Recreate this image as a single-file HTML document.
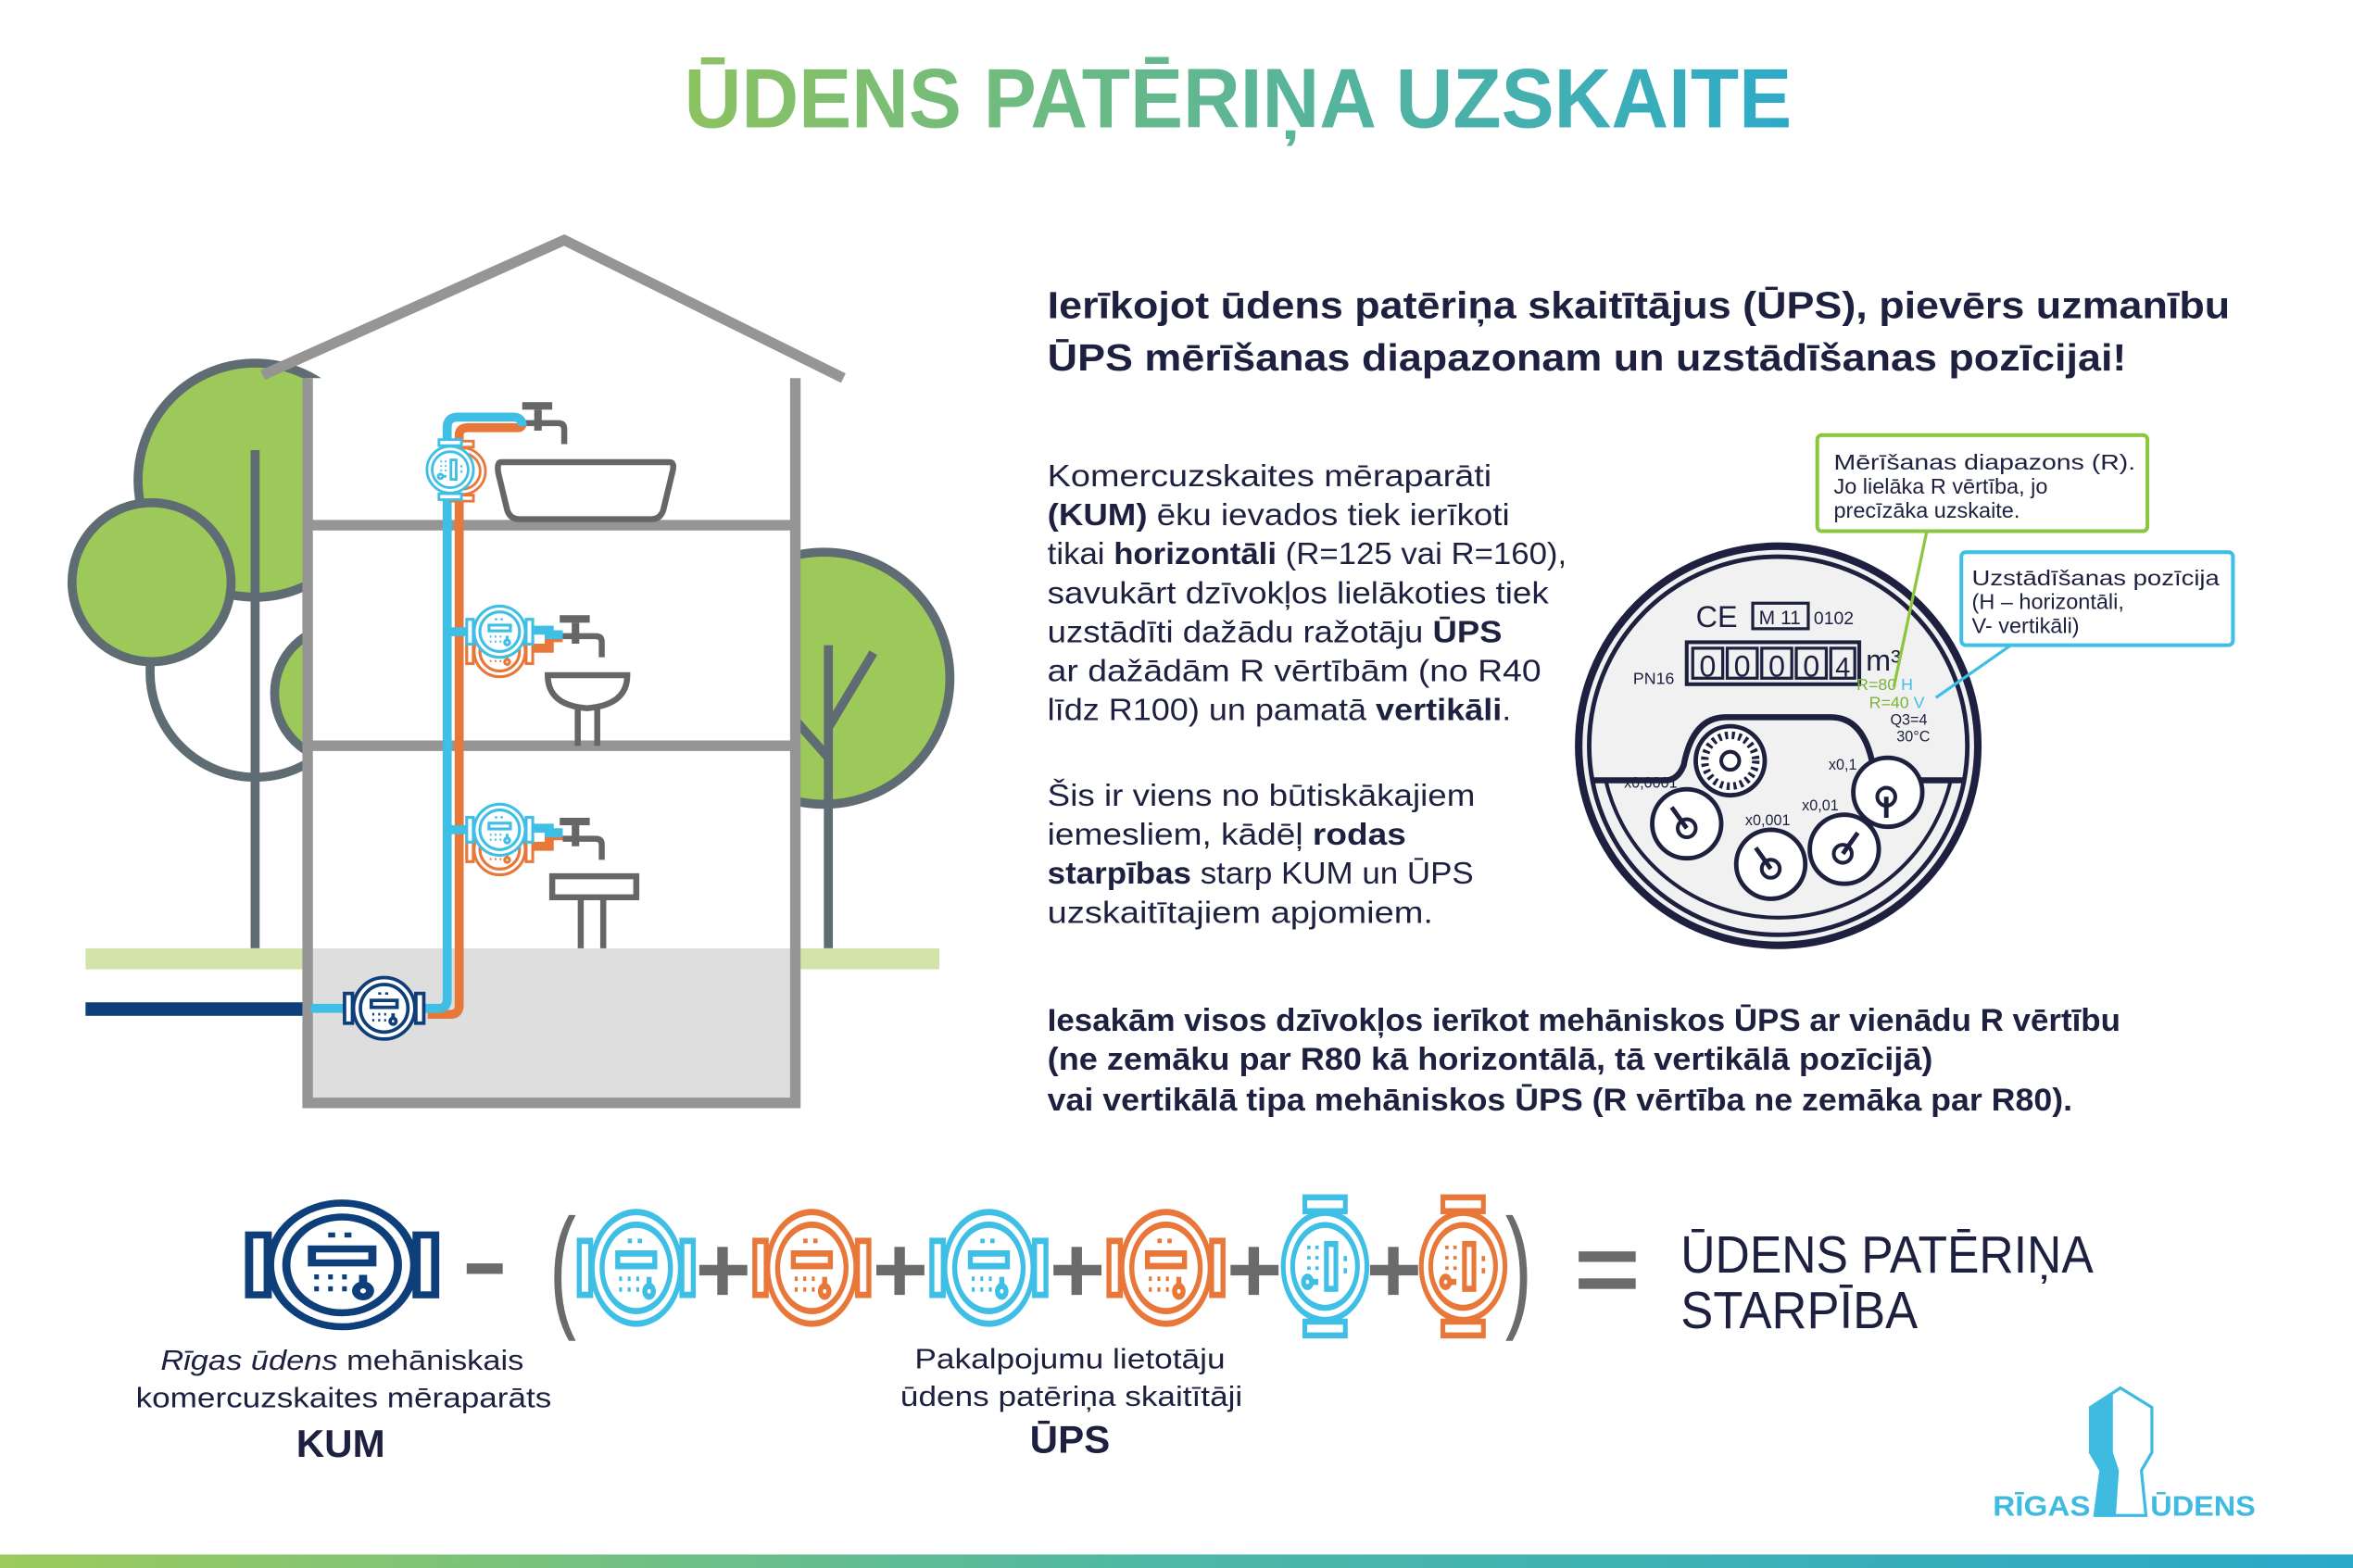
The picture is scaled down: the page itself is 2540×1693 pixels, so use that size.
<!DOCTYPE html>
<html><head><meta charset="utf-8"><style>
html,body{margin:0;padding:0;background:#fff;}
svg{display:block;}
text{font-family:"Liberation Sans",sans-serif;fill:#1e2040;}
</style></head><body>
<svg width="2540" height="1693" viewBox="0 0 1568 1045" preserveAspectRatio="none" xmlns="http://www.w3.org/2000/svg">
<defs>
<linearGradient id="tg" x1="0" x2="1" y1="0" y2="0"><stop offset="0" stop-color="#8cc261"/><stop offset="1" stop-color="#2eaac8"/></linearGradient>
<linearGradient id="bg" x1="0" x2="1" y1="0" y2="0"><stop offset="0" stop-color="#9ccb5c"/><stop offset="0.5" stop-color="#4db8a6"/><stop offset="1" stop-color="#2aa8c8"/></linearGradient>
<g id="mh" fill="none" stroke="currentColor" stroke-width="3.5">
<circle r="31" fill="#fff"/><circle r="24"/>
<rect x="-40" y="-15" width="8" height="30" fill="#fff"/><rect x="32" y="-15" width="8" height="30" fill="#fff"/>
<rect x="-13" y="-8" width="26" height="7"/>
<path d="M-6 -15h3M1 -15h3M-12 6h2M-6 6h2M0 6h2M-12 12h2M-6 12h2M0 12h2" stroke-width="2.5"/>
<circle cx="9" cy="13" r="3"/><path d="M9 10v-5"/>
</g>
</defs>

<text x="825" y="85" text-anchor="middle" font-size="56" font-weight="bold" style="fill:url(#tg)" textLength="738" lengthAdjust="spacingAndGlyphs">ŪDENS PATĒRIŅA UZSKAITE</text>

<g stroke="#606c74" stroke-width="6">
<circle cx="170" cy="448" r="70" fill="#fff"/>
<circle cx="170" cy="320" r="78" fill="#9dc85a"/>
<circle cx="228" cy="462" r="45" fill="#9dc85a"/>
<circle cx="101" cy="388" r="53" fill="#9dc85a"/>
<path d="M170 300V632" fill="none"/>
<circle cx="549" cy="452" r="84" fill="#9dc85a"/>
<path d="M552 430V632M552 485L582 435M552 505L530 480" fill="none"/>
</g>
<rect x="57" y="632" width="150" height="14" fill="#d3e4a8"/>
<rect x="530" y="632" width="96" height="14" fill="#d3e4a8"/>
<rect x="57" y="668" width="150" height="9" fill="#0e3f7a"/>
<rect x="205" y="252" width="325" height="483" fill="#fff"/>
<rect x="205" y="632" width="325" height="103" fill="#dedede"/>
<g stroke="#959595" stroke-width="7" fill="none">
<path d="M175 250L376 160L562 252"/>
<path d="M205 252V735H530V252"/>
<path d="M205 350H530M205 497H530"/>
</g>
<g stroke="#666" stroke-width="4" fill="none">
<path d="M334 308H446Q450 308 448 315L442 340Q440 346 434 346H346Q340 346 338 340L332 315Q331 308 334 308Z"/>
<path d="M365 450H418Q418 470 391 472Q365 470 365 450ZM385 472V497M398 472V497"/>
<path d="M368 584H424V598H368ZM387 598V632M402 598V632"/>
</g>
<g fill="#666">
<rect x="348" y="268" width="20" height="5"/><rect x="356" y="273" width="5" height="14"/><path d="M350 280H372Q378 280 378 286V296H374V286Q374 284 372 284H350Z"/>
<rect x="373" y="410" width="20" height="5"/><rect x="381" y="415" width="5" height="14"/><path d="M375 422H397Q403 422 403 428V438H399V428Q399 426 397 426H375Z"/>
<rect x="373" y="545" width="20" height="5"/><rect x="381" y="550" width="5" height="14"/><path d="M375 557H397Q403 557 403 563V573H399V563Q399 561 397 561H375Z"/>
</g>
<g fill="none" stroke-width="6">
<path d="M285 676H300Q306 676 306 670V290Q306 285 312 285H345Q348 285 348 282" stroke="#e8773a"/>
<path d="M207 672H292Q298 672 298 666V285Q298 278 305 278H342Q348 278 348 284" stroke="#3fbfe6"/>
<path d="M298 421H320M298 553H320" stroke="#3fbfe6"/>
<path d="M350 432H366V425H375M350 564H366V557H375" stroke="#e8773a"/>
<path d="M350 420H366V423H375M350 552H366V555H375" stroke="#3fbfe6"/>
</g>
<use href="#mh" transform="translate(308,314) rotate(90) scale(0.5)" color="#e8773a"/>
<use href="#mh" transform="translate(300,313) rotate(90) scale(0.5)" color="#3fbfe6"/>
<use href="#mh" transform="translate(333,434) scale(0.55)" color="#e8773a"/>
<use href="#mh" transform="translate(333,421) scale(0.55)" color="#3fbfe6"/>
<use href="#mh" transform="translate(333,566) scale(0.55)" color="#e8773a"/>
<use href="#mh" transform="translate(333,553) scale(0.55)" color="#3fbfe6"/>
<use href="#mh" transform="translate(256,672) scale(0.66)" color="#0e3f7a"/>

<text x="698" y="212" font-size="25" font-weight="bold" textLength="788" lengthAdjust="spacingAndGlyphs">Ierīkojot ūdens patēriņa skaitītājus (ŪPS), pievērs uzmanību</text>
<text x="698" y="247" font-size="25" font-weight="bold" textLength="719" lengthAdjust="spacingAndGlyphs">ŪPS mērīšanas diapazonam un uzstādīšanas pozīcijai!</text>
<g font-size="20.5">
<text x="698" y="324" textLength="296" lengthAdjust="spacingAndGlyphs">Komercuzskaites mēraparāti</text>
<text x="698" y="350" textLength="308" lengthAdjust="spacingAndGlyphs"><tspan font-weight="bold">(KUM)</tspan> ēku ievados tiek ierīkoti</text>
<text x="698" y="376" textLength="346" lengthAdjust="spacingAndGlyphs">tikai <tspan font-weight="bold">horizontāli</tspan> (R=125 vai R=160),</text>
<text x="698" y="402" textLength="334" lengthAdjust="spacingAndGlyphs">savukārt dzīvokļos lielākoties tiek</text>
<text x="698" y="428" textLength="303" lengthAdjust="spacingAndGlyphs">uzstādīti dažādu ražotāju <tspan font-weight="bold">ŪPS</tspan></text>
<text x="698" y="454" textLength="329" lengthAdjust="spacingAndGlyphs">ar dažādām R vērtībām (no R40</text>
<text x="698" y="480" textLength="309" lengthAdjust="spacingAndGlyphs">līdz R100) un pamatā <tspan font-weight="bold">vertikāli</tspan>.</text>
<text x="698" y="537" textLength="285" lengthAdjust="spacingAndGlyphs">Šis ir viens no būtiskākajiem</text>
<text x="698" y="563" textLength="239" lengthAdjust="spacingAndGlyphs">iemesliem, kādēļ <tspan font-weight="bold">rodas</tspan></text>
<text x="698" y="589" textLength="284" lengthAdjust="spacingAndGlyphs"><tspan font-weight="bold">starpības</tspan> starp KUM un ŪPS</text>
<text x="698" y="615" textLength="257" lengthAdjust="spacingAndGlyphs">uzskaitītajiem apjomiem.</text>
</g>
<g font-size="21" font-weight="bold">
<text x="698" y="687" textLength="715" lengthAdjust="spacingAndGlyphs">Iesakām visos dzīvokļos ierīkot mehāniskos ŪPS ar vienādu R vērtību</text>
<text x="698" y="713" textLength="590" lengthAdjust="spacingAndGlyphs">(ne zemāku par R80 kā horizontālā, tā vertikālā pozīcijā)</text>
<text x="698" y="740" textLength="683" lengthAdjust="spacingAndGlyphs">vai vertikālā tipa mehāniskos ŪPS (R vērtība ne zemāka par R80).</text>
</g>

<g stroke="#1e2040" fill="none">
<circle cx="1185" cy="497" r="133" stroke-width="5" fill="#f1f1f1"/>
<circle cx="1185" cy="497" r="126" stroke-width="3"/>
<path d="M1060 520H1110Q1118 520 1122 510Q1128 478 1150 478H1220Q1242 478 1248 510Q1252 520 1260 520H1310" stroke-width="4"/>
<path d="M1070 520A118 118 0 0 0 1300 520" stroke-width="2.5"/>
<rect x="1124" y="428" width="115" height="28" stroke-width="2.5"/>
<rect x="1128" y="432" width="20" height="20" stroke-width="2"/><rect x="1151" y="432" width="20" height="20" stroke-width="2"/><rect x="1174" y="432" width="20" height="20" stroke-width="2"/><rect x="1197" y="432" width="20" height="20" stroke-width="2"/><rect x="1220" y="432" width="16" height="20" stroke-width="2"/>
<rect x="1168" y="402" width="37" height="17" stroke-width="2"/>
<circle cx="1153" cy="507" r="23" stroke-width="3" fill="#fff"/><circle cx="1153" cy="507" r="6" stroke-width="2.5"/>
<circle cx="1153" cy="507" r="17" stroke-width="5" stroke-dasharray="2 2.5"/>
<circle cx="1124" cy="549" r="23" stroke-width="3" fill="#fff"/>
<circle cx="1180" cy="576" r="23" stroke-width="3" fill="#fff"/>
<circle cx="1229" cy="566" r="23" stroke-width="3" fill="#fff"/>
<circle cx="1258" cy="528" r="23" stroke-width="3" fill="#fff"/>
<circle cx="1124" cy="552" r="6" stroke-width="2.5"/><circle cx="1180" cy="579" r="6" stroke-width="2.5"/><circle cx="1228" cy="569" r="6" stroke-width="2.5"/><circle cx="1257" cy="531" r="6" stroke-width="2.5"/>
<path d="M1124 552L1114 538M1180 579L1170 565M1228 569L1238 555M1257 531L1257 545" stroke-width="3"/>
</g>
<g font-size="9" text-anchor="middle">
<text x="1144" y="418" font-size="20">CE</text>
<text x="1186" y="416" font-size="13">M 11</text>
<text x="1222" y="416" font-size="12">0102</text>
<text x="1138" y="451" font-size="20">0</text><text x="1161" y="451" font-size="20">0</text><text x="1184" y="451" font-size="20">0</text><text x="1207" y="451" font-size="20">0</text><text x="1228" y="451" font-size="18">4</text>
<text x="1255" y="447" font-size="20">m³</text>
<text x="1102" y="456" font-size="11">PN16</text>
<text x="1256" y="460" font-size="11" style="fill:#7ab43c">R=80 <tspan style="fill:#3fbfe6">H</tspan></text>
<text x="1264" y="472" font-size="11" style="fill:#7ab43c">R=40 <tspan style="fill:#3fbfe6">V</tspan></text>
<text x="1272" y="483" font-size="10">Q3=4</text>
<text x="1275" y="494" font-size="10">30°C</text>
<text x="1100" y="525" font-size="10">x0,0001</text>
<text x="1178" y="550" font-size="10">x0,001</text>
<text x="1213" y="540" font-size="10">x0,01</text>
<text x="1228" y="513" font-size="10">x0,1</text>
</g>
<path d="M1284 354L1262 458" stroke="#8cc63f" stroke-width="2" fill="none"/>
<path d="M1340 430L1290 465" stroke="#3fbfe6" stroke-width="2" fill="none"/>
<rect x="1211" y="290" width="220" height="64" rx="3" fill="#fff" stroke="#8cc63f" stroke-width="2.5"/>
<rect x="1307" y="368" width="181" height="62" rx="3" fill="#fff" stroke="#3fbfe6" stroke-width="2.5"/>
<g font-size="14.5">
<text x="1222" y="313" textLength="201" lengthAdjust="spacingAndGlyphs">Mērīšanas diapazons (R).</text>
<text x="1222" y="329">Jo lielāka R vērtība, jo</text>
<text x="1222" y="345">precīzāka uzskaite.</text>
<text x="1314" y="390" textLength="165" lengthAdjust="spacingAndGlyphs">Uzstādīšanas pozīcija</text>
<text x="1314" y="406">(H – horizontāli,</text>
<text x="1314" y="422">V- vertikāli)</text>
</g>

<use href="#mh" transform="translate(228,843) scale(1.55,1.33)" color="#0e3f7a"/>
<rect x="311" y="842" width="24" height="7" fill="#6b6b6b"/>
<text x="375" y="875" font-size="90" text-anchor="middle" style="fill:#6b6b6b" transform="translate(375,0) scale(0.6,1) translate(-375,0)">(</text>
<use href="#mh" transform="translate(424,845) scale(0.95,1.2)" color="#3fbfe6"/>
<use href="#mh" transform="translate(541,845) scale(0.95,1.2)" color="#e8773a"/>
<use href="#mh" transform="translate(659,845) scale(0.95,1.2)" color="#3fbfe6"/>
<use href="#mh" transform="translate(777,845) scale(0.95,1.2)" color="#e8773a"/>
<use href="#mh" transform="translate(883,844) rotate(90) scale(1.15,0.9)" color="#3fbfe6"/>
<use href="#mh" transform="translate(975,844) rotate(90) scale(1.15,0.9)" color="#e8773a"/>
<g fill="#6b6b6b">
<rect x="466" y="843" width="32" height="7"/><rect x="478" y="831" width="7" height="32"/>
<rect x="584" y="843" width="32" height="7"/><rect x="596" y="831" width="7" height="32"/>
<rect x="702" y="843" width="32" height="7"/><rect x="714" y="831" width="7" height="32"/>
<rect x="820" y="843" width="32" height="7"/><rect x="832" y="831" width="7" height="32"/>
<rect x="913" y="843" width="32" height="7"/><rect x="925" y="831" width="7" height="32"/>
<rect x="1052" y="834" width="38" height="7"/><rect x="1052" y="852" width="38" height="7"/>
</g>
<text x="1012" y="875" font-size="90" text-anchor="middle" style="fill:#6b6b6b" transform="translate(1012,0) scale(0.6,1) translate(-1012,0)">)</text>
<text x="1120" y="848" font-size="35" textLength="275" lengthAdjust="spacingAndGlyphs">ŪDENS PATĒRIŅA</text>
<text x="1120" y="885" font-size="35" textLength="158" lengthAdjust="spacingAndGlyphs">STARPĪBA</text>
<g font-size="19" text-anchor="middle">
<text x="228" y="913" textLength="242" lengthAdjust="spacingAndGlyphs"><tspan font-style="italic">Rīgas ūdens</tspan> mehāniskais</text>
<text x="229" y="938" textLength="277" lengthAdjust="spacingAndGlyphs">komercuzskaites mēraparāts</text>
<text x="227" y="971" font-size="26" font-weight="bold">KUM</text>
<text x="713" y="912" textLength="207" lengthAdjust="spacingAndGlyphs">Pakalpojumu lietotāju</text>
<text x="714" y="937" textLength="228" lengthAdjust="spacingAndGlyphs">ūdens patēriņa skaitītāji</text>
<text x="713" y="968" font-size="26" font-weight="bold">ŪPS</text>
</g>

<path d="M1393 938L1413 925L1434 938V968L1427 980L1430 1010H1396L1400 980L1393 968Z" fill="#fff" stroke="#3fbbe2" stroke-width="2"/>
<path d="M1393 938L1408 929V968L1412 980L1410 1010H1396L1400 980L1393 968Z" fill="#3fbbe2"/>
<text x="1328" y="1010" font-size="19" font-weight="bold" style="fill:#3fbbe2" textLength="65" lengthAdjust="spacingAndGlyphs">RĪGAS</text>
<text x="1433" y="1010" font-size="19" font-weight="bold" style="fill:#3fbbe2" textLength="70" lengthAdjust="spacingAndGlyphs">ŪDENS</text>
<rect x="0" y="1036" width="1568" height="9" fill="url(#bg)"/>
</svg>
</body></html>
